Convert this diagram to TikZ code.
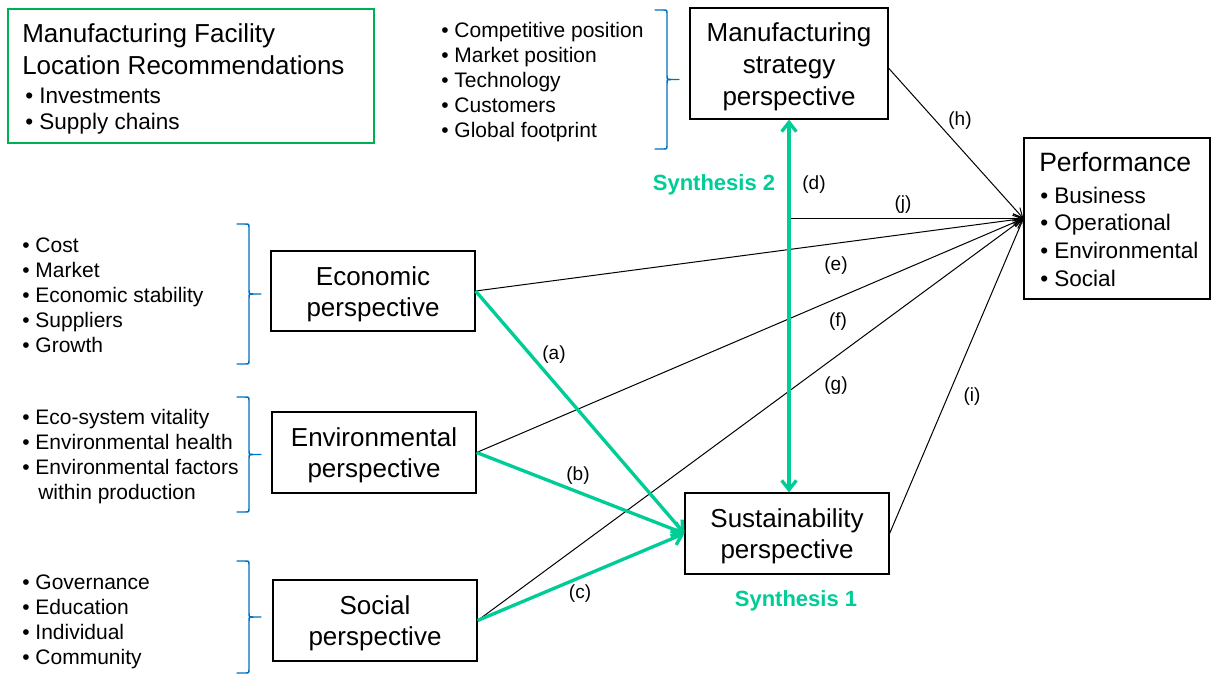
\documentclass[tikz,border=0pt]{standalone}
\usepackage{fontspec}
\setmainfont{Liberation Sans}
\usetikzlibrary{arrows.meta}
\definecolor{synth}{RGB}{0,204,150}
\definecolor{boxgreen}{RGB}{0,176,80}
\definecolor{bracecol}{RGB}{0,112,192}
\newcommand{\mybrace}[3]{%
  \draw[bracestyle] (#1-12,#2) -- (#1-4,#2) .. controls (#1,#2) .. (#1,#2+4)
    -- (#1,{(#2+#3)/2-4}) .. controls (#1,{(#2+#3)/2}) .. (#1+4,{(#2+#3)/2}) -- (#1+12,{(#2+#3)/2});
  \draw[bracestyle] (#1-12,#3) -- (#1-4,#3) .. controls (#1,#3) .. (#1,#3-4)
    -- (#1,{(#2+#3)/2+4}) .. controls (#1,{(#2+#3)/2}) .. (#1+4,{(#2+#3)/2});
}
\begin{document}
\begin{tikzpicture}[x=0.75pt,y=-0.75pt,
  persp/.style={draw=black, line width=0.9pt, inner sep=0pt},
  ptext/.style={align=center, inner sep=0pt, font=\fontsize{19.5}{23.4}\selectfont},
  item/.style={anchor=base west, inner sep=0pt, font=\fontsize{15.75}{18}\selectfont},
  bigitem/.style={anchor=base west, inner sep=0pt, font=\fontsize{16.9}{20}\selectfont},
  head/.style={anchor=base west, inner sep=0pt, font=\fontsize{19.5}{23}\selectfont},
  lbl/.style={inner sep=0pt, font=\fontsize{14.25}{16}\selectfont},
  syn/.style={inner sep=0pt, text=synth, font=\fontsize{16.5}{19}\selectfont\bfseries},
  blk/.style={draw=black, line width=0.75pt, -{Straight Barb[length=7pt,width=7pt]}},
  grn/.style={draw=synth, line width=2.5pt, -{Straight Barb[length=7pt,width=11pt]}},
  bracestyle/.style={draw=bracecol, line width=1.1pt, line cap=round, line join=round}
]
\useasboundingbox (0,0) rectangle (1212,675);

% Recommendations box
\node[draw=boxgreen, line width=1.8pt, minimum width=274.5pt, minimum height=100.5pt, inner sep=0pt] (fac) at (191,76) {};
\node[head] (fac1) at (22,42) {Manufacturing Facility};
\node[head] (fac2) at (22,74) {Location Recommendations};
\node[bigitem] (fac3) at (25,103) {• Investments};
\node[bigitem] (fac4) at (25,129) {• Supply chains};

% perspective boxes
\node[persp, minimum width=148.5pt, minimum height=83.25pt] (mfg) at (789,63.5) {};
\node[ptext, font=\fontsize{19.5}{24}\selectfont] (mfgt) at (789,67) {Manufacturing\\strategy\\perspective};
\node[persp, minimum width=153pt, minimum height=60pt] (eco) at (373,291) {};
\node[ptext] (ecot) at (373,294) {Economic\\perspective};
\node[persp, minimum width=153pt, minimum height=60.75pt] (env) at (374,452.5) {};
\node[ptext] (envt) at (374,455.5) {Environmental\\perspective};
\node[persp, minimum width=153pt, minimum height=60.75pt] (soc) at (375,620.5) {};
\node[ptext] (soct) at (375,623.5) {Social\\perspective};
\node[persp, minimum width=153pt, minimum height=60.75pt] (sus) at (787,533.5) {};
\node[ptext] (sust) at (787,536.5) {Sustainability\\perspective};
\node[persp, minimum width=139.5pt, minimum height=120.75pt] (perf) at (1117,218.5) {};
\node[head, font=\fontsize{19.9}{23}\selectfont] (perf0) at (1039,171) {Performance};
\foreach \t [count=\i] in {Business, Operational, Environmental, Social}
  \node[bigitem] (perf\i) at ({1040},{203+27.7*(\i-1)}) {• \t};

% lists
\foreach \t [count=\i] in {Competitive position, Market position, Technology, Customers, Global footprint}
  \node[item] (mlist\i) at ({441},{37+25*(\i-1)}) {• \t};
\foreach \t [count=\i] in {Cost, Market, Economic stability, Suppliers, Growth}
  \node[item] (elist\i) at ({22},{252+25.2*(\i-1)}) {• \t};
\foreach \t [count=\i] in {Eco-system vitality, Environmental health, Environmental factors}
  \node[item] (nlist\i) at ({22},{424+25*(\i-1)}) {• \t};
\node[item] (nlist4) at (38,499) {within production};
\foreach \t [count=\i] in {Governance, Education, Individual, Community}
  \node[item] (slist\i) at ({22},{589+25*(\i-1)}) {• \t};

% braces
\mybrace{667}{10}{149}
\mybrace{249}{224}{364}
\mybrace{249}{397}{512}
\mybrace{249}{561}{673}

% black connectors
\coordinate (jstart) at (mfg.south |- perf.west);
\draw[blk] ([yshift=-3.5pt]mfg.east) -- (perf.west);
\draw[blk] (jstart) -- (perf.west);
\draw[blk] (eco.east) -- (perf.west);
\draw[blk] (env.east) -- (perf.west);
\draw[blk] (soc.east) -- (perf.west);
\draw[blk] (sus.east) -- (perf.west);

% green connectors
\draw[grn] (eco.east) -- (sus.west);
\draw[grn] (env.east) -- (sus.west);
\draw[grn] (soc.east) -- (sus.west);
\draw[grn, {Straight Barb[length=7pt,width=11pt]}-{Straight Barb[length=7pt,width=11pt]}] (mfg.south) -- (mfg.south |- sus.north);

% labels
\node[lbl] (lh) at (960,121) {(h)};
\node[lbl] (lj) at (903,205) {(j)};
\node[lbl] (le) at (836,266) {(e)};
\node[lbl] (lf) at (838,322) {(f)};
\node[lbl] (lg) at (836,386) {(g)};
\node[lbl] (li) at (972,397) {(i)};
\node[lbl] (ld) at (814,185) {(d)};
\node[lbl] (la) at (554,355) {(a)};
\node[lbl] (lb) at (578,476) {(b)};
\node[lbl] (lc) at (580,594) {(c)};
\node[syn] (syn2) at (714,185) {Synthesis 2};
\node[syn] (syn1) at (796,601) {Synthesis 1};
\end{tikzpicture}
\end{document}
